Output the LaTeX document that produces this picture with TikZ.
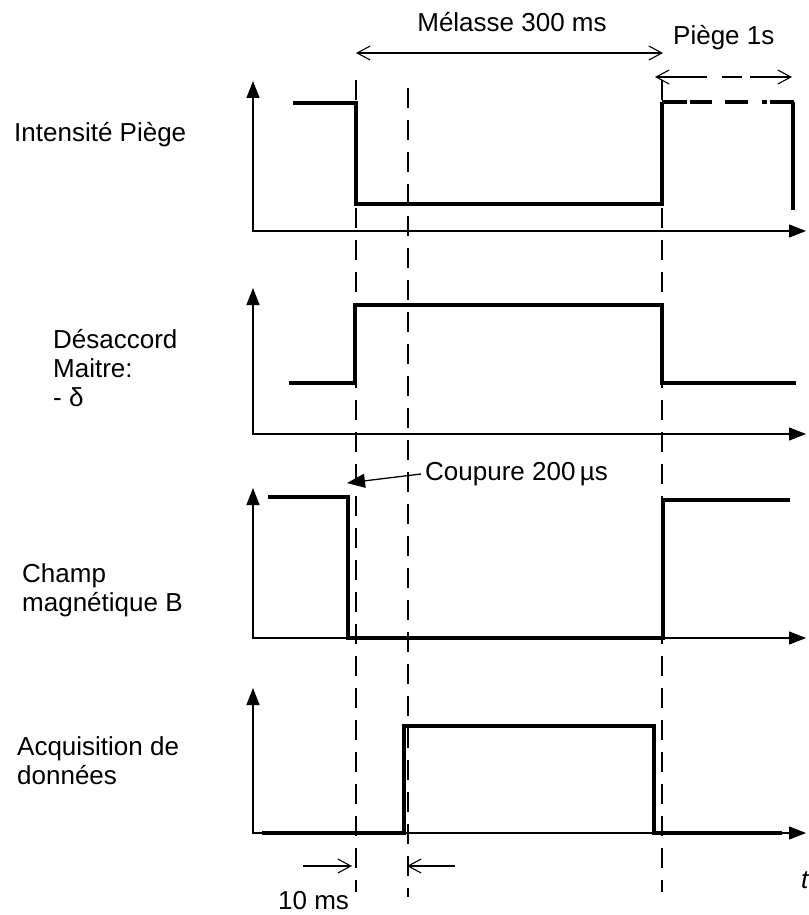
\documentclass[tikz,border=0pt]{standalone}
\usepackage{fontspec}
\setmainfont{Liberation Sans}
\usetikzlibrary{arrows.meta}

\begin{document}
\begin{tikzpicture}[x=1pt,y=-1pt,
  axis/.style={line width=1.2pt,{Triangle[length=17pt,width=13pt]}-{Triangle[length=17pt,width=13pt]}},
  signal/.style={line width=3.2pt},
  marker/.style={line width=1.2pt,dash pattern=on 20pt off 12pt},
  span/.style={line width=1.1pt,{Straight Barb[length=13pt,width=14pt]}-{Straight Barb[length=13pt,width=14pt]}},
  barb/.style={line width=1.1pt,-{Straight Barb[length=13pt,width=14pt]}},
  every node/.style={font=\fontsize{26}{29}\selectfont,inner sep=0pt}]
  % Configurable parameters
  \def\tcut{356}
  \def\tacq{408}
  \def\tend{662}
  \def\yaxis{253}
  %
  \useasboundingbox (0,0) rectangle (808,915);
  %
  % Time markers
  \foreach \xm/\ya/\yb in {\tcut/80/892, \tacq/88/897, \tend/80/892}
    \draw[marker] (\xm,\ya) -- (\xm,\yb);
  %
  % Axes
  \foreach \yb/\yt in {231/81, 434/288, 638/488, 833/688}
    \draw[axis] (\yaxis,\yt) |- (806,\yb);
  %
  % Signals
  \draw[signal] (293,103) -- (\tcut,103) -- (\tcut,204) -- (\tend,204) -- (\tend,102);
  \draw[signal,dash pattern=on 25pt off 3pt on 22pt off 13pt on 23pt off 14pt on 5pt off 3pt on 30pt]
    (\tend,102) -- (794,102);
  \draw[signal] (793,102) -- (793,210);
  \draw[signal] (289,383) -- (355,383) -- (355,305) -- (\tend,305) -- (\tend,383) -- (796,383);
  \draw[signal] (268,497) -- (348,497) -- (348,638) -- (663,638) -- (663,500) -- (790,500);
  \draw[signal] (262,833) -- (404,833) -- (404,726) -- (654,726) -- (654,833) -- (782,833);
  %
  % Labels
  \node[anchor=base west] (trap) at (14,141) {Intensité Piège};
  \node[anchor=base west,align=left] (detuning) at (53,406) {Désaccord\\Maitre:\\- δ};
  \node[anchor=base west,align=left] (field) at (22,611) {Champ\\magnétique B};
  \node[anchor=base west,align=left] (acq) at (17,784) {Acquisition de\\données};
  %
  % Durations
  \node[anchor=base] (molasses) at (512,32) {Mélasse 300 ms};
  \draw[span] (\tcut,53) -- (663,53);
  \node[anchor=base west] (trapon) at (673,45) {Piège 1s};
  \draw[span,dash pattern=on 50pt off 15pt on 20pt off 8pt on 60pt] (655,77) -- (792,77);
  %
  \node[anchor=west,inner sep=4pt] (cut) at (421,474) {Coupure 200\,µs};
  \coordinate (cuttip) at (347,483);
  \draw[line width=1.3pt,-{Triangle[length=18pt,width=14pt]}] (cut.west) -- (cuttip);
  %
  \coordinate (gapleft) at (303,866);
  \coordinate (gapright) at (455,866);
  \draw[barb] (gapleft) -- (\tcut-4,866);
  \draw[barb] (gapright) -- (\tacq-1,866);
  \node[anchor=base west] (gap) at (278,909) {10 ms};
  \node[anchor=base west] (time) at (801,888) {\itshape t};
  %
\end{tikzpicture}
\end{document}
